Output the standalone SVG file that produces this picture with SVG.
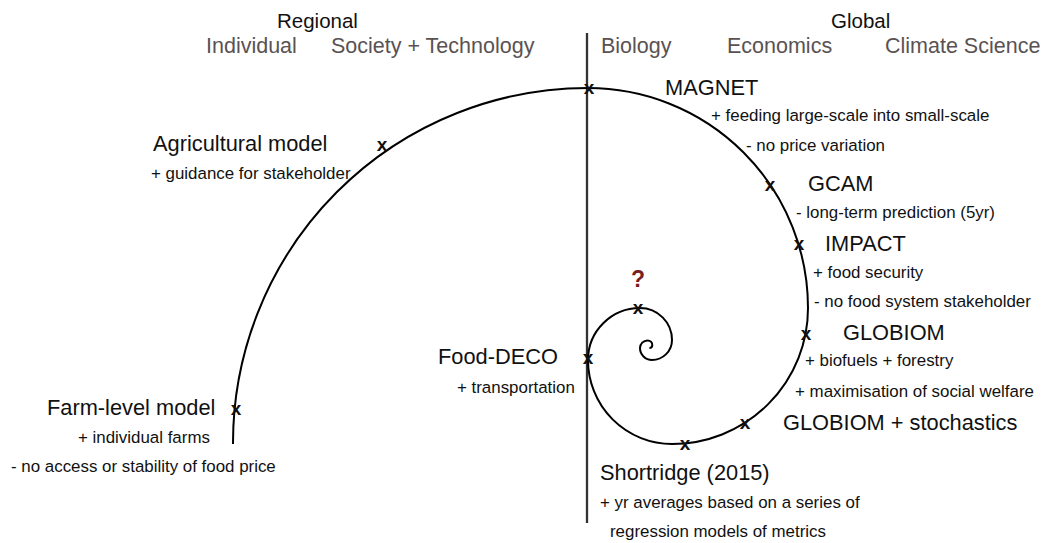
<svg xmlns="http://www.w3.org/2000/svg" width="1045" height="543" viewBox="0 0 1045 543">
  <style>
    text { font-family: "Liberation Sans", Arial, Helvetica, sans-serif; fill: #111; }
    .head { font-size: 20.5px; }
    .cat { font-size: 21.5px; fill: #5a5252; }
    .title { font-size: 21.8px; }
    .note { font-size: 16.9px; }
    .mark { font-size: 19px; font-weight: bold; text-anchor: middle; }
    .q { font-size: 23px; font-weight: bold; fill: #7a1f1f; text-anchor: middle; }
    .axis { stroke: #333; stroke-width: 2.3; fill: none; }
    .spiral { stroke: #000; stroke-width: 2; fill: none; }
  </style>

  <rect width="1045" height="543" fill="#fff"/>

  <!-- scale headings -->
  <g id="headings">
    <text class="head" x="277" y="28">Regional</text>
    <text class="head" x="831" y="28">Global</text>
    <text class="cat" x="206" y="53">Individual</text>
    <text class="cat" x="331" y="53">Society + Technology</text>
    <text class="cat" x="601" y="53">Biology</text>
    <text class="cat" x="727" y="53">Economics</text>
    <text class="cat" x="885" y="53">Climate Science</text>
  </g>

  <!-- divider and golden spiral -->
  <g id="connectors">
    <line class="axis" x1="587" y1="33" x2="587" y2="523"/>
    <path class="spiral" d="M 233 444
      A 355 355 0 0 1 588 88
      A 220 220 0 0 1 808 308
      A 136 136 0 0 1 672 444
      A 84 84 0 0 1 588 360
      A 52 52 0 0 1 640 308
      A 32 32 0 0 1 672 340
      A 20 20 0 0 1 652 360
      A 12 12 0 0 1 640 348
      A 7.6 7.6 0 0 1 647.6 340.4
      A 4.7 4.7 0 0 1 652.3 345.1
      A 2.9 2.9 0 0 1 649.4 348"/>
  </g>

  <g id="farm-level">
    <text class="mark" x="236" y="415">x</text>
    <text class="title" x="47" y="415">Farm-level model</text>
    <text class="note" x="78" y="443">+ individual farms</text>
    <text class="note" x="11" y="472">- no access or stability of food price</text>
  </g>

  <g id="agricultural">
    <text class="mark" x="382" y="151">x</text>
    <text class="title" x="153" y="151">Agricultural model</text>
    <text class="note" x="151" y="179">+ guidance for stakeholder</text>
  </g>

  <g id="magnet">
    <text class="mark" x="589" y="94">x</text>
    <text class="title" x="665" y="95">MAGNET</text>
    <text class="note" x="711" y="121">+ feeding large-scale into small-scale</text>
    <text class="note" x="746" y="151">- no price variation</text>
  </g>

  <g id="gcam">
    <text class="mark" x="770" y="191">x</text>
    <text class="title" x="808" y="191">GCAM</text>
    <text class="note" x="796" y="218">- long-term prediction (5yr)</text>
  </g>

  <g id="impact">
    <text class="mark" x="799" y="250">x</text>
    <text class="title" x="825" y="251">IMPACT</text>
    <text class="note" x="813" y="278">+ food security</text>
    <text class="note" x="814" y="307">- no food system stakeholder</text>
  </g>

  <g id="globiom">
    <text class="mark" x="806" y="340">x</text>
    <text class="title" x="843" y="340">GLOBIOM</text>
    <text class="note" x="805" y="366">+ biofuels + forestry</text>
    <text class="note" x="795" y="397">+ maximisation of social welfare</text>
  </g>

  <g id="globiom-stochastics">
    <text class="mark" x="745" y="429">x</text>
    <text class="title" x="783" y="430">GLOBIOM + stochastics</text>
  </g>

  <g id="shortridge">
    <text class="mark" x="685" y="450">x</text>
    <text class="title" x="600" y="480">Shortridge (2015)</text>
    <text class="note" x="600" y="508">+ yr averages based on a series of</text>
    <text class="note" x="610" y="537">regression models of metrics</text>
  </g>

  <g id="food-deco">
    <text class="mark" x="588" y="364">x</text>
    <text class="title" x="438" y="364">Food-DECO</text>
    <text class="note" x="457" y="393">+ transportation</text>
  </g>

  <g id="unknown">
    <text class="mark" x="638" y="314">x</text>
    <text class="q" x="638" y="287">?</text>
  </g>
</svg>
